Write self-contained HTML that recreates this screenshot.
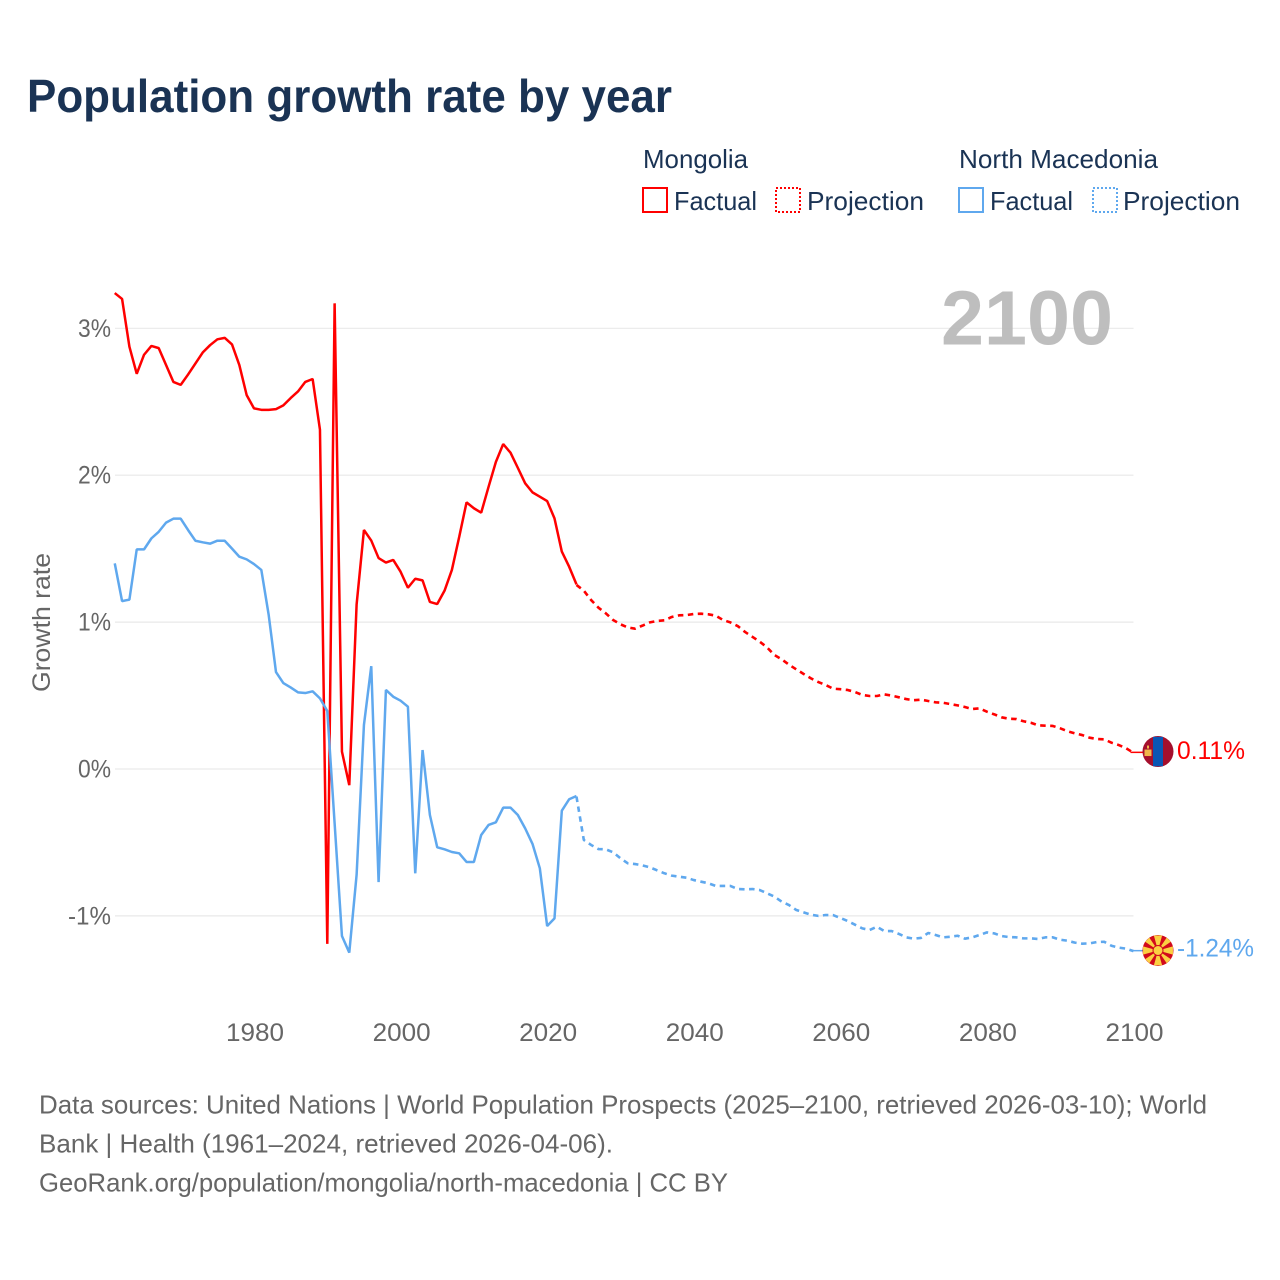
<!DOCTYPE html>
<html lang="en">
<head>
<meta charset="utf-8">
<title>Population growth rate by year</title>
<style>
html,body{margin:0;padding:0;background:#fff;}
svg{display:block;}
text{font-family:"Liberation Sans",sans-serif;}
</style>
</head>
<body>
<svg id="chart" xmlns="http://www.w3.org/2000/svg" width="1280" height="1280" viewBox="0 0 1280 1280">
  <rect x="0" y="0" width="1280" height="1280" fill="#fff"/>
  <text x="27" y="112" font-size="46" font-weight="700" fill="#1a3354" textLength="645" lengthAdjust="spacingAndGlyphs">Population growth rate by year</text>

  <g font-size="26" fill="#1a3354">
    <text x="643" y="168" textLength="105" lengthAdjust="spacingAndGlyphs">Mongolia</text>
    <text x="959" y="168" textLength="199" lengthAdjust="spacingAndGlyphs">North Macedonia</text>
    <rect x="643" y="188" width="24" height="24" fill="none" stroke="#ff0000" stroke-width="2"/>
    <text x="674" y="210" textLength="83" lengthAdjust="spacingAndGlyphs">Factual</text>
    <rect x="776" y="188" width="24" height="24" fill="none" stroke="#ff0000" stroke-width="2" stroke-dasharray="2 2"/>
    <text x="807" y="210" textLength="117" lengthAdjust="spacingAndGlyphs">Projection</text>
    <rect x="959" y="188" width="24" height="24" fill="none" stroke="#5fa8ee" stroke-width="2"/>
    <text x="990" y="210" textLength="83" lengthAdjust="spacingAndGlyphs">Factual</text>
    <rect x="1093" y="188" width="24" height="24" fill="none" stroke="#5fa8ee" stroke-width="2" stroke-dasharray="2 2"/>
    <text x="1123" y="210" textLength="117" lengthAdjust="spacingAndGlyphs">Projection</text>
  </g>

  <g id="grid"></g>
  <g id="ylabels"></g>
  <g id="xlabels"></g>
  <text transform="translate(50,622.5) rotate(-90)" text-anchor="middle" font-size="25" fill="#666" textLength="139" lengthAdjust="spacingAndGlyphs">Growth rate</text>
  <text x="941" y="344.5" font-size="77" font-weight="700" fill="#b8b8b8" fill-opacity="0.92" textLength="172" lengthAdjust="spacingAndGlyphs">2100</text>
  <g id="series"></g>
  <g id="ends"></g>

  <g font-size="26" fill="#666">
    <text x="39" y="1113.5" textLength="1168" lengthAdjust="spacingAndGlyphs">Data sources: United Nations | World Population Prospects (2025–2100, retrieved 2026-03-10); World</text>
    <text x="39" y="1152.5" textLength="574" lengthAdjust="spacingAndGlyphs">Bank | Health (1961–2024, retrieved 2026-04-06).</text>
    <text x="39" y="1191.5" textLength="689" lengthAdjust="spacingAndGlyphs">GeoRank.org/population/mongolia/north-macedonia | CC BY</text>
  </g>
</svg>
<script>
const yTickValues = [3, 2, 1, 0, -1];
const yTickLabels = ["3%", "2%", "1%", "0%", "-1%"];
const xTickYears = [1980, 2000, 2020, 2040, 2060, 2080, 2100];
const xTickLabels = ["1980", "2000", "2020", "2040", "2060", "2080", "2100"];
const factualStartYear = 1961;
const projectionStartYear = 2024;
const mongoliaFactual = [3.24,3.20,2.875,2.69,2.82,2.88,2.865,2.75,2.635,2.615,2.685,2.76,2.835,2.885,2.925,2.935,2.89,2.75,2.545,2.455,2.445,2.445,2.45,2.475,2.525,2.57,2.635,2.655,2.31,-1.19,3.17,0.118,-0.11,1.12,1.627,1.555,1.436,1.405,1.423,1.343,1.234,1.295,1.284,1.137,1.123,1.214,1.355,1.58,1.815,1.775,1.745,1.92,2.09,2.212,2.153,2.05,1.945,1.883,1.854,1.824,1.706,1.48,1.377,1.257];
const mongoliaProjection = [1.253,1.214,1.15,1.098,1.06,1.014,0.985,0.964,0.955,0.976,0.998,1.008,1.012,1.035,1.046,1.048,1.055,1.057,1.053,1.044,1.014,0.998,0.973,0.933,0.90,0.867,0.828,0.776,0.747,0.71,0.678,0.647,0.617,0.592,0.572,0.547,0.543,0.538,0.524,0.504,0.497,0.497,0.508,0.50,0.488,0.476,0.468,0.472,0.463,0.454,0.451,0.442,0.433,0.422,0.408,0.413,0.39,0.372,0.352,0.342,0.34,0.325,0.315,0.297,0.295,0.293,0.277,0.257,0.243,0.231,0.213,0.204,0.202,0.179,0.163,0.141,0.11];
const macedoniaFactual = [1.40,1.143,1.153,1.495,1.495,1.57,1.615,1.677,1.704,1.704,1.627,1.554,1.543,1.534,1.554,1.554,1.50,1.445,1.427,1.395,1.355,1.05,0.66,0.585,0.555,0.522,0.517,0.529,0.481,0.395,-0.37,-1.137,-1.25,-0.72,0.30,0.70,-0.77,0.538,0.492,0.465,0.424,-0.71,0.129,-0.313,-0.533,-0.547,-0.565,-0.574,-0.633,-0.633,-0.449,-0.381,-0.363,-0.263,-0.263,-0.313,-0.404,-0.51,-0.676,-1.069,-1.017,-0.284,-0.206,-0.184];
const macedoniaProjection = [-0.188,-0.483,-0.517,-0.545,-0.547,-0.567,-0.608,-0.642,-0.647,-0.656,-0.669,-0.69,-0.71,-0.726,-0.733,-0.74,-0.756,-0.767,-0.778,-0.796,-0.796,-0.796,-0.817,-0.819,-0.817,-0.824,-0.846,-0.869,-0.903,-0.926,-0.96,-0.976,-0.992,-1.0,-0.994,-0.994,-1.014,-1.035,-1.06,-1.085,-1.096,-1.074,-1.103,-1.103,-1.123,-1.146,-1.155,-1.15,-1.116,-1.13,-1.146,-1.142,-1.135,-1.155,-1.146,-1.13,-1.112,-1.119,-1.137,-1.144,-1.146,-1.153,-1.153,-1.157,-1.146,-1.146,-1.162,-1.169,-1.182,-1.189,-1.187,-1.178,-1.176,-1.203,-1.216,-1.223,-1.24];
const endLabels = ["0.11%", "-1.24%"];

const NS = "http://www.w3.org/2000/svg";
function xScale(year) { return 254 + (year - 1980) * 7.329; }
function yScale(value) { return 769 - value * 146.9; }
function make(parent, tag, attrs) {
  const el = document.createElementNS(NS, tag);
  for (const k in attrs) el.setAttribute(k, attrs[k]);
  parent.appendChild(el);
  return el;
}
function linePath(values, startYear) {
  return values.map(function (v, i) {
    return (i ? "L" : "M") + xScale(startYear + i).toFixed(2) + " " + yScale(v).toFixed(2);
  }).join(" ");
}

const grid = document.getElementById("grid");
const ylabels = document.getElementById("ylabels");
const xlabels = document.getElementById("xlabels");
const series = document.getElementById("series");
const ends = document.getElementById("ends");

yTickValues.forEach(function (v, i) {
  const gl = make(grid, "line", { x1: 115, x2: 1133.5, y1: yScale(v), y2: yScale(v), stroke: "#e9e9e9", "stroke-width": 1.2 });
  
  
  const t = make(ylabels, "text", { x: 111, y: yScale(v) + 8.5, "text-anchor": "end", "font-size": 25, fill: "#666", textLength: yTickLabels[i].length === 3 ? 43 : 33, lengthAdjust: "spacingAndGlyphs" });
  
  
  t.textContent = yTickLabels[i];
});

xTickYears.forEach(function (yr, i) {
  const t = make(xlabels, "text", { x: xScale(yr) + 1, y: 1041, "text-anchor": "middle", "font-size": 25, fill: "#666", textLength: 58, lengthAdjust: "spacingAndGlyphs" });
  
  
  t.textContent = xTickLabels[i];
});

function drawSeries(factual, projection, color) {
  const f = make(series, "path", { d: linePath(factual, factualStartYear), fill: "none", stroke: color, "stroke-width": 2.5, "stroke-linejoin": "bevel" });
  
  
  const p = make(series, "path", { d: linePath(projection, projectionStartYear), fill: "none", stroke: color, "stroke-width": 2.6, "stroke-dasharray": "5.5 4.5", "stroke-linejoin": "bevel" });
  
  
  const lastY = yScale(projection[projection.length - 1]);
  const c = make(series, "line", { x1: xScale(2099.6), x2: 1144, y1: lastY - 0.5, y2: lastY - 0.5, stroke: color, "stroke-width": 1.5 });
  
  
  return lastY;
}
const mongoliaEndY = drawSeries(mongoliaFactual, mongoliaProjection, "#ff0000");
const macedoniaEndY = drawSeries(macedoniaFactual, macedoniaProjection, "#5fa8ee");

/* Mongolia end marker */
const mnFlag = make(ends, "g", { transform: "translate(1158," + (mongoliaEndY - 1.3) + ")" });


make(mnFlag, "circle", { cx: 0, cy: 0, r: 15.5, fill: "#a50f2d" });
make(mnFlag, "path", { d: "M-5 -14.7 H5 V14.7 H-5 Z", fill: "#0a56b4" });
make(mnFlag, "rect", { x: -13.5, y: -2, width: 7, height: 6.5, fill: "#f0b64a" });
make(mnFlag, "rect", { x: -11, y: -6, width: 2, height: 3, fill: "#f0b64a" });
const mnLabel = make(ends, "text", { x: 1177, y: mongoliaEndY + 6, "font-size": 25, fill: "#ff0000", textLength: 68, lengthAdjust: "spacingAndGlyphs" });


mnLabel.textContent = endLabels[0];

/* North Macedonia end marker */
const mkFlag = make(ends, "g", { transform: "translate(1158," + (macedoniaEndY - 0.7) + ")" });


make(mkFlag, "circle", { cx: 0, cy: 0, r: 15.5, fill: "#d20a1c" });
for (let a = 0; a < 8; a++) {
  const ang = a * Math.PI / 4;
  const half = a % 2 === 0 ? 0.27 : 0.19;
  const pts = [
    [0, 0],
    [15.5 * Math.sin(ang - half), -15.5 * Math.cos(ang - half)],
    [15.5 * Math.sin(ang + half), -15.5 * Math.cos(ang + half)]
  ];
  make(mkFlag, "polygon", { points: pts.map(function (q) { return q[0].toFixed(2) + "," + q[1].toFixed(2); }).join(" "), fill: "#fbd042" });
}
make(mkFlag, "circle", { cx: 0, cy: 0, r: 5.5, fill: "#d20a1c" });
make(mkFlag, "circle", { cx: 0, cy: 0, r: 4.5, fill: "#fbd042" });
const mkLabel = make(ends, "text", { x: 1177, y: macedoniaEndY + 5.5, "font-size": 25, fill: "#5fa8ee", textLength: 77, lengthAdjust: "spacingAndGlyphs" });


mkLabel.textContent = endLabels[1];
</script>
</body>
</html>
